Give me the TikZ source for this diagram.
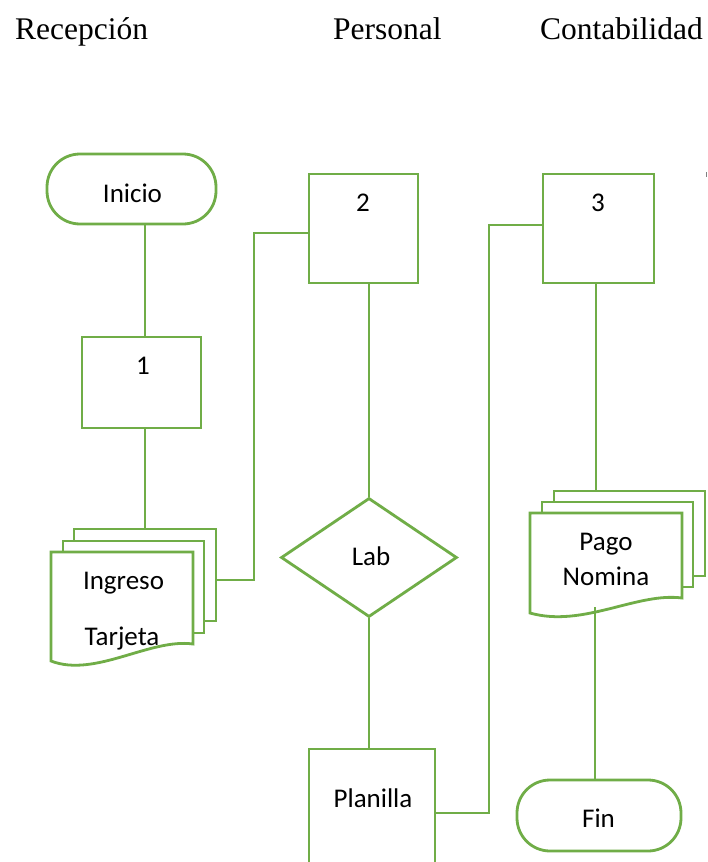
\documentclass[tikz,border=0pt]{standalone}
\usepackage{fontspec}
\setmainfont{Liberation Serif}
\newfontfamily\boxfont{Carlito}
\usetikzlibrary{shapes.geometric,calc}
\definecolor{flowgreen}{RGB}{112,173,71}
\begin{document}
\begin{tikzpicture}[x=1pt,y=-1pt,
  flow/.style={draw=flowgreen, line width=2.8pt, fill=white},
  procbox/.style={flow, rectangle, inner sep=0pt},
  termbox/.style={flow, rectangle, rounded corners=33pt, inner sep=0pt},
  decbox/.style={flow, diamond, inner sep=0pt},
  link/.style={draw=flowgreen, line width=2.8pt},
  txt/.style={font=\boxfont\fontsize{27}{32}\selectfont, anchor=base, inner sep=0pt},
  head/.style={font=\fontsize{31.5}{36}\selectfont, anchor=base west, inner sep=0pt}]
\useasboundingbox[fill=white] (0,0) rectangle (707,862);

% column headings
\node[head] (hrec) at (15,39) {Recepción};
\node[head] (hper) at (333,39) {Personal};
\node[head] (hcon) at (540,39) {Contabilidad};

% Recepción column
\node[termbox, minimum width=169pt, minimum height=70pt] (inicio) at (131.5,189) {};
\node[txt] (tinicio) at (132.5,202) {Inicio};
\node[procbox, minimum width=119pt, minimum height=91pt] (b1) at (141.5,382.5) {};
\node[txt] (t1) at (143,374) {1};

% stacked documents "Ingreso Tarjeta"
\draw[flow] (74,529) rectangle (216,621);
\draw[flow] (63,541) rectangle (204,633);
\draw[flow] (51,661) -- (51,552) -- (193,552) -- (193,644)
  .. controls (150,638) and (95,678) .. cycle;
\coordinate (ingT) at (145,529);
\coordinate (ingR) at (216,580);
\node[txt] (ting1) at (123.5,589) {Ingreso};
\node[txt] (ting2) at (122,645) {Tarjeta};

% Personal column
\node[procbox, minimum width=109pt, minimum height=109pt] (b2) at (363.5,228.5) {};
\node[txt] (t2) at (363,211) {2};
\node[decbox, minimum width=176pt, minimum height=119pt] (lab) at (369,557.5) {};
\node[txt] (tlab) at (371,565) {Lab};

% open box "Planilla"
\coordinate (plBL) at (309,862);
\coordinate (plBR) at (435,862);
\coordinate (plT) at (369,749);
\coordinate (plR) at (435,813);
\draw[flow, fill=none] (plBL) -- (309,749) -- (435,749) -- (plBR);
\node[txt] (tpl) at (373,807) {Planilla};

% Contabilidad column
\node[procbox, minimum width=111pt, minimum height=109pt] (b3) at (598.5,228.5) {};
\node[txt] (t3) at (598,211) {3};

% stacked documents "Pago Nomina"
\draw[flow] (554,491) rectangle (705,576);
\draw[flow] (542,502) rectangle (693,587);
\draw[flow] (530,613) -- (530,513) -- (682,513) -- (682,598)
  .. controls (637,592) and (583,628) .. cycle;
\coordinate (pagoT) at (596,491);
\coordinate (pagoB) at (595,607);
\node[txt] (tpago1) at (606,550) {Pago};
\node[txt] (tpago2) at (606,585) {Nomina};

\node[termbox, minimum width=164pt, minimum height=71pt] (fin) at (599,815.5) {};
\node[txt] (tfin) at (598.5,827) {Fin};

% bend columns of the cross-lane connectors
\coordinate (bendA) at (254,0);
\coordinate (bendB) at (489,0);

% connectors
\draw[link] (inicio.south -| ingT) -- (b1.north -| ingT);
\draw[link] (b1.south -| ingT) -- (ingT);
\draw[link] (ingR) -- (ingR -| bendA) -- (bendA |- {$(b2.west)+(0,4.5)$}) -- ($(b2.west)+(0,4.5)$);
\draw[link] (b2.south -| lab.north) -- (lab.north);
\draw[link] (lab.south) -- (plT);
\draw[link] (plR) -- (plR -| bendB) -- (bendB |- {$(b3.west)+(0,-3.5)$}) -- ($(b3.west)+(0,-3.5)$);
\draw[link] (b3.south -| pagoT) -- (pagoT);
\draw[link] (pagoB) -- (pagoB |- fin.north);

% small stray tick at the right edge
\draw[gray, line width=1pt] (706,172) -- (706,177);
\end{tikzpicture}
\end{document}
